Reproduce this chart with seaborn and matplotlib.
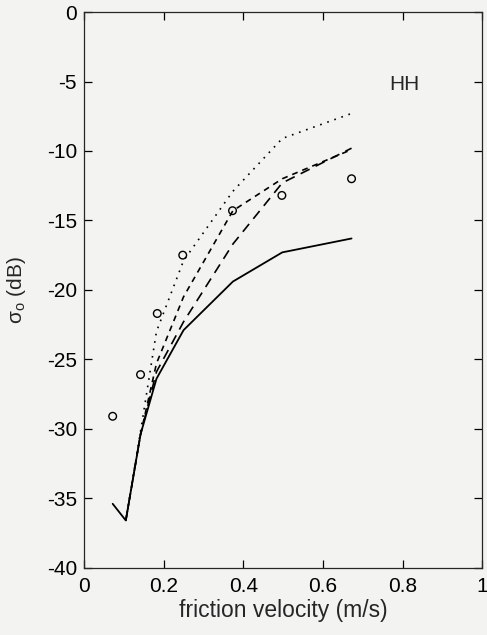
import numpy as np
import pandas as pd
import matplotlib
matplotlib.use("Agg")
import matplotlib.pyplot as plt
import seaborn as sns

# friction velocity (m/s) and sigma0 (dB)
u_solid = [0.072, 0.105, 0.142, 0.182, 0.25, 0.374, 0.498, 0.672]
s_solid = [-35.4, -36.6, -30.4, -26.4, -22.9, -19.4, -17.3, -16.3]

u_model = [0.105, 0.142, 0.182, 0.25, 0.374, 0.498, 0.672]
s_dotted = [-36.6, -30.2, -23.0, -17.9, -12.9, -9.1, -7.3]
s_dash_short = [-36.6, -30.4, -25.3, -20.5, -14.3, -12.0, -9.9]
s_dash_long = [-36.6, -30.4, -25.9, -22.3, -16.7, -12.3, -9.8]

u_obs = [0.072, 0.142, 0.184, 0.248, 0.373, 0.497, 0.672]
s_obs = [-29.1, -26.1, -21.7, -17.5, -14.3, -13.2, -12.0]

sns.set_style("ticks")
plt.rcParams['font.family'] = ['Liberation Sans', 'DejaVu Sans']
plt.rcParams['mathtext.fontset'] = 'custom'
plt.rcParams['mathtext.rm'] = 'Liberation Sans'
plt.rcParams['mathtext.it'] = 'Liberation Sans'
plt.rcParams['axes.unicode_minus'] = False

bg = '#f3f3f1'
fig = plt.figure(figsize=(4.87, 6.35), dpi=100, facecolor=bg)
ax = fig.add_axes([0.1725, 0.106, 0.8175, 0.875])
ax.set_facecolor(bg)

sns.lineplot(x=u_solid, y=s_solid, ax=ax, color='black', lw=1.3, sort=False)
sns.lineplot(x=u_model, y=s_dotted, ax=ax, color='black', lw=1.2, linestyle=(0, (1, 3.5)), sort=False)
sns.lineplot(x=u_model, y=s_dash_short, ax=ax, color='black', lw=1.2, linestyle=(0, (3.5, 3)), sort=False)
sns.lineplot(x=u_model, y=s_dash_long, ax=ax, color='black', lw=1.2, linestyle=(0, (6, 4)), sort=False)
sns.scatterplot(x=u_obs, y=s_obs, ax=ax, marker='o', s=30, facecolor='none', edgecolor='black', linewidth=1.0)

ax.set_xlim(0, 1)
ax.set_ylim(-40, 0)
ax.set_xticks([0, 0.2, 0.4, 0.6, 0.8, 1])
ax.set_xticklabels(['0', '0.2', '0.4', '0.6', '0.8', '1'])
ax.set_yticks(np.arange(-40, 1, 5))
ax.tick_params(direction='in', top=True, right=True, length=6, width=0.9, labelsize=15, colors='black')
ax.tick_params(axis='x', pad=7)
ax.tick_params(axis='y', pad=5)
for sp in ax.spines.values():
    sp.set_linewidth(0.9)
    sp.set_visible(True)

ax.set_xlabel('friction velocity (m/s)', fontsize=16.5, labelpad=2)
ax.set_ylabel(r'σ$_\mathregular{o}$ (dB)', fontsize=15)
ax.yaxis.set_label_coords(-0.14, 0.5)
ax.text(0.805, 0.869, 'HH', transform=ax.transAxes, fontsize=15, ha='center', va='center')

fig.savefig('out.png', dpi=100, facecolor=bg)
